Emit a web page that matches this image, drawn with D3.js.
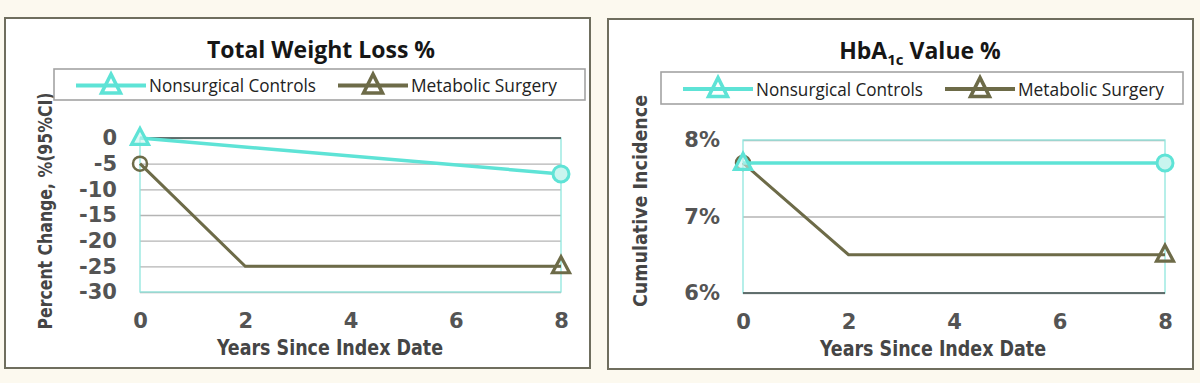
<!DOCTYPE html>
<html>
<head>
<meta charset="utf-8">
<script src="https://cdn.jsdelivr.net/npm/d3@7"></script>
<style>
  html, body { margin: 0; padding: 0; background: #fcf9ef; }
  svg { display: block; }
</style>
</head>
<body>
<svg id="chart" width="1200" height="383"></svg>
<script>
// ---------------- DATA ----------------
const xTicks = [0, 2, 4, 6, 8];
const seriesNames = ["Nonsurgical Controls", "Metabolic Surgery"];

// Chart 1: Total Weight Loss %
const wlControlsYears = [0, 8];
const wlControlsValues = [0, -7];
const wlSurgeryYears = [0, 2, 8];
const wlSurgeryValues = [-5, -25, -25];
const wlYTicks = [0, -5, -10, -15, -20, -25, -30];
const wlYTickLabels = ["0", "-5", "-10", "-15", "-20", "-25", "-30"];

// Chart 2: HbA1c Value %
const hbControlsYears = [0, 8];
const hbControlsValues = [7.7, 7.7];
const hbSurgeryYears = [0, 2, 8];
const hbSurgeryValues = [7.7, 6.5, 6.5];
const hbYTicks = [6, 7, 8];
const hbYTickLabels = ["6%", "7%", "8%"];

// Marker shapes per point
const controlsMarkers = ["triangle", "circle"];
const surgeryMarkers = ["circle", null, "triangle"];

// ---------------- STYLE ----------------
const CYAN = "#5ee3d6";
const OLIVE = "#6d6b48";
const svg = d3.select("#chart");

function triPath(cx, cy, w, h) {
  return `M${cx},${cy - h * 0.6}L${cx + w / 2},${cy + h * 0.4}L${cx - w / 2},${cy + h * 0.4}Z`;
}

function drawMarker(g, shape, cx, cy, color, isCyan) {
  if (shape === "triangle") {
    g.append("path").attr("d", triPath(cx, cy, 17, 16))
      .attr("fill", isCyan ? "rgba(200,245,240,0.6)" : "none")
      .attr("stroke", color).attr("stroke-width", 3.2).attr("stroke-linejoin", "miter");
  } else if (shape === "circle") {
    g.append("circle").attr("cx", cx).attr("cy", cy).attr("r", isCyan ? 8 : 7)
      .attr("fill", isCyan ? "#c9f5ef" : "none")
      .attr("stroke", color).attr("stroke-width", isCyan ? 3 : 2.5);
  }
}

function drawPanel(cfg) {
  const g = svg.append("g");
  g.append("rect").attr("x", cfg.frame[0]).attr("y", cfg.frame[1])
    .attr("width", cfg.frame[2] - cfg.frame[0]).attr("height", cfg.frame[3] - cfg.frame[1])
    .attr("fill", "#ffffff").attr("stroke", "#6f6e5e").attr("stroke-width", 2);

  const x = d3.scaleLinear().domain([0, 8]).range([cfg.plot[0], cfg.plot[1]]);
  const y = d3.scaleLinear().domain(cfg.yDomain).range([cfg.plot[3], cfg.plot[2]]);

  const grid = d3.axisLeft(y).tickValues(cfg.yTicks).tickSize(-(cfg.plot[1] - cfg.plot[0])).tickFormat("");
  const gg = g.append("g").attr("transform", `translate(${cfg.plot[0]},0)`).call(grid);
  gg.select(".domain").remove();
  gg.selectAll(".tick line").attr("stroke", "#b4b4b4").attr("stroke-width", 1.3);

  g.append("rect").attr("x", cfg.plot[0]).attr("y", cfg.plot[2])
    .attr("width", cfg.plot[1] - cfg.plot[0]).attr("height", cfg.plot[3] - cfg.plot[2])
    .attr("fill", "none").attr("stroke", "#8fe6de").attr("stroke-width", 1.3);

  g.append("line").attr("x1", cfg.plot[0]).attr("x2", cfg.plot[1])
    .attr("y1", y(cfg.axisAt)).attr("y2", y(cfg.axisAt))
    .attr("stroke", "#4a4a4a").attr("stroke-width", 1.5);

  const yAx = d3.axisLeft(y).tickValues(cfg.yTicks).tickSize(0).tickPadding(23)
    .tickFormat(d => cfg.yLabels[cfg.yTicks.indexOf(d)]);
  const ya = g.append("g").attr("transform", `translate(${cfg.plot[0]},0)`).call(yAx);
  ya.select(".domain").remove();
  ya.selectAll("text").attr("font-family", "'DejaVu Sans', sans-serif").attr("font-weight", "bold")
    .attr("font-size", 21).attr("fill", "#545454");

  const xAx = d3.axisBottom(x).tickValues(xTicks).tickSize(0).tickPadding(0).tickFormat(d3.format("d"));
  const xa = g.append("g").attr("transform", `translate(0,${cfg.plot[3]})`).call(xAx);
  xa.select(".domain").remove();
  xa.selectAll("text").attr("font-family", "'DejaVu Sans', sans-serif").attr("font-weight", "bold")
    .attr("font-size", 21).attr("fill", "#545454").attr("dy", null).attr("y", 36);

  g.append("text").attr("x", cfg.xTitlePos[0]).attr("y", cfg.xTitlePos[1])
    .attr("text-anchor", "middle").attr("font-family", "'DejaVu Sans Condensed', 'DejaVu Sans', sans-serif")
    .attr("font-weight", "bold").attr("font-size", 21).attr("fill", "#454545")
    .attr("textLength", 226).attr("lengthAdjust", "spacingAndGlyphs")
    .text("Years Since Index Date");

  g.append("text").attr("transform", `translate(${cfg.yTitlePos[0]},${cfg.yTitlePos[1]}) rotate(-90)`)
    .attr("text-anchor", "middle").attr("dy", "0.35em")
    .attr("font-family", "'DejaVu Sans Condensed', 'DejaVu Sans', sans-serif")
    .attr("font-weight", "bold").attr("font-size", 19).attr("fill", "#454545")
    .attr("textLength", cfg.yTitleLen).attr("lengthAdjust", "spacingAndGlyphs")
    .text(cfg.yTitle);

  const t = g.append("text").attr("x", cfg.titlePos[0]).attr("y", cfg.titlePos[1])
    .attr("text-anchor", "middle").attr("font-family", "'Open Sans', sans-serif")
    .attr("font-weight", "bold").attr("font-size", 23).attr("fill", "#161616");
  cfg.titleParts.forEach(p => {
    const ts = t.append("tspan").text(p.text);
    if (p.sub) ts.attr("font-size", 15).attr("dy", 6);
    if (p.after) ts.attr("dy", -6);
  });

  const lb = cfg.legend;
  g.append("rect").attr("x", lb[0]).attr("y", lb[1]).attr("width", lb[2] - lb[0]).attr("height", lb[3] - lb[1])
    .attr("fill", "#ffffff").attr("stroke", "#a3a3a3").attr("stroke-width", 1.6);
  const ly = (lb[1] + lb[3]) / 2 + 1;
  const items = [
    { name: seriesNames[0], color: CYAN, off: 22, tw: 167 },
    { name: seriesNames[1], color: OLIVE, off: 284, tw: 146 }
  ];
  items.forEach(it => {
    const x0 = lb[0] + it.off;
    g.append("line").attr("x1", x0).attr("x2", x0 + 70).attr("y1", ly).attr("y2", ly)
      .attr("stroke", it.color).attr("stroke-width", 4);
    g.append("path").attr("d", triPath(x0 + 35, ly, 19, 19)).attr("fill", "none")
      .attr("stroke", it.color).attr("stroke-width", 3.5);
    g.append("text").attr("x", x0 + 73).attr("y", ly).attr("dy", "0.35em")
      .attr("font-family", "'Open Sans', sans-serif").attr("font-size", 19).attr("fill", "#222222")
      .attr("textLength", it.tw).attr("lengthAdjust", "spacingAndGlyphs")
      .text(it.name);
  });

  const line = d3.line().x(d => x(d[0])).y(d => y(d[1]));
  const surg = cfg.surgYears.map((yr, i) => [yr, cfg.surgVals[i]]);
  const ctrl = cfg.ctrlYears.map((yr, i) => [yr, cfg.ctrlVals[i]]);
  g.append("path").datum(surg).attr("d", line).attr("fill", "none")
    .attr("stroke", OLIVE).attr("stroke-width", 3);
  surg.forEach((d, i) => drawMarker(g, surgeryMarkers[i], x(d[0]), y(d[1]), OLIVE, false));
  g.append("path").datum(ctrl).attr("d", line).attr("fill", "none")
    .attr("stroke", CYAN).attr("stroke-width", 3.5);
  ctrl.forEach((d, i) => drawMarker(g, controlsMarkers[i], x(d[0]), y(d[1]), CYAN, true));
}

drawPanel({
  frame: [5, 18, 590, 368],
  plot: [140, 561, 138, 292],
  yDomain: [-30, 0],
  yTicks: wlYTicks, yLabels: wlYTickLabels,
  axisAt: 0,
  xTitlePos: [330, 355],
  yTitlePos: [45, 211], yTitleLen: 237,
  yTitle: "Percent Change, %(95%CI)",
  titlePos: [321, 58],
  titleParts: [{ text: "Total Weight Loss %" }],
  legend: [54, 69, 585, 100],
  ctrlYears: wlControlsYears, ctrlVals: wlControlsValues,
  surgYears: wlSurgeryYears, surgVals: wlSurgeryValues
});

drawPanel({
  frame: [608, 19, 1193, 369],
  plot: [743, 1165, 140, 293],
  yDomain: [6, 8],
  yTicks: hbYTicks, yLabels: hbYTickLabels,
  axisAt: 6,
  xTitlePos: [933, 356],
  yTitlePos: [640, 201], yTitleLen: 212,
  yTitle: "Cumulative Incidence",
  titlePos: [920, 59],
  titleParts: [{ text: "HbA" }, { text: "1c", sub: true }, { text: " Value %", after: true }],
  legend: [661, 72, 1183, 104],
  ctrlYears: hbControlsYears, ctrlVals: hbControlsValues,
  surgYears: hbSurgeryYears, surgVals: hbSurgeryValues
});
</script>
</body>
</html>
